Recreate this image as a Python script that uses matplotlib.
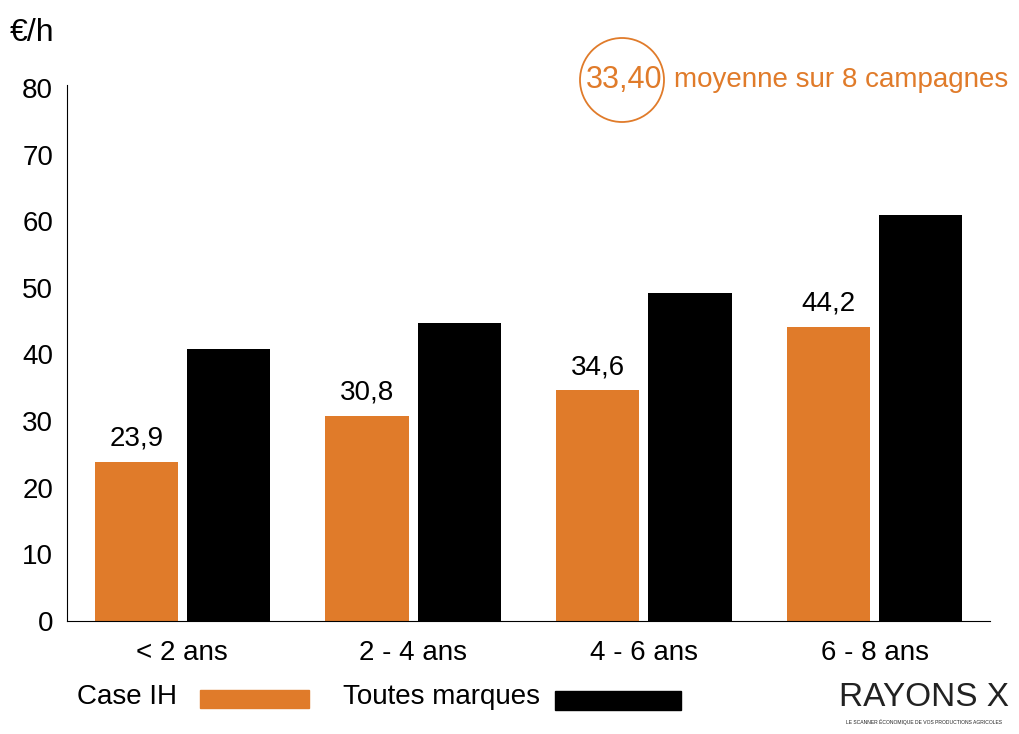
import numpy as np
import matplotlib.pyplot as plt
from matplotlib.patches import Ellipse, Rectangle

plt.rcParams['font.family'] = ['Liberation Sans Narrow', 'Liberation Sans', 'DejaVu Sans']

# Données
categories = ['< 2 ans', '2 - 4 ans', '4 - 6 ans', '6 - 8 ans']
case_ih = [23.9, 30.8, 34.6, 44.2]
toutes_marques = [40.8, 44.7, 49.2, 61.0]
labels_case = ['23,9', '30,8', '34,6', '44,2']
yticks = [0, 10, 20, 30, 40, 50, 60, 70, 80]

orange = '#E07B2A'

fig = plt.figure(figsize=(10.19, 7.34), dpi=100)
ax = fig.add_axes([67/1019, 113/734, 923/1019, 533/734])

x = np.arange(len(categories))
w = 0.36
ax.bar(x - 0.2, case_ih, w, color=orange)
ax.bar(x + 0.2, toutes_marques, w, color='black')

for xi, v, t in zip(x, case_ih, labels_case):
    ax.text(xi - 0.2, v + 1.5, t, ha='center', va='bottom', fontsize=20)

ax.set_xlim(-0.5, 3.5)
ax.set_ylim(0, 80)
ax.set_yticks(yticks)
ax.set_xticks(x)
ax.set_xticklabels(categories)
ax.tick_params(axis='both', length=0, labelsize=20)
ax.tick_params(axis='y', pad=10)
ax.tick_params(axis='x', pad=14)
for s in ['top', 'right']:
    ax.spines[s].set_visible(False)
ax.spines['left'].set_bounds(0, 80.5)

# unité
fig.text(10/1019, 1 - 33/734, '€/h', fontsize=23, va='center', ha='left')

# moyenne
fig.patches.append(Ellipse((622/1019, 1 - 80/734), 84/1019, 84/734, transform=fig.transFigure,
                           fill=False, edgecolor=orange, lw=1.3))
fig.text(624/1019, 1 - 80/734, '33,40', fontsize=22, color=orange, ha='center', va='center')
fig.text(674/1019, 1 - 80/734, 'moyenne sur 8 campagnes', fontsize=20, color=orange,
         ha='left', va='center')

# légende
fig.text(77/1019, 1 - 697/734, 'Case IH', fontsize=20, va='center')
fig.patches.append(Rectangle((200/1019, 1 - 708/734), 109/1019, 18/734,
                             transform=fig.transFigure, color=orange))
fig.text(343/1019, 1 - 697/734, 'Toutes marques', fontsize=20, va='center')
fig.patches.append(Rectangle((555/1019, 1 - 710/734), 126/1019, 19/734,
                             transform=fig.transFigure, color='black'))

# logo
fig.text(924/1019, 1 - 697/734, 'RAYONS X', fontsize=24, ha='center', va='center',
         family=['Liberation Sans', 'DejaVu Sans'], color='#222222')
fig.text(924/1019, 1 - 722/734, 'LE SCANNER ÉCONOMIQUE DE VOS PRODUCTIONS AGRICOLES',
         fontsize=3.6, ha='center', va='center', color='#222222')

plt.savefig('out.png', dpi=100)
